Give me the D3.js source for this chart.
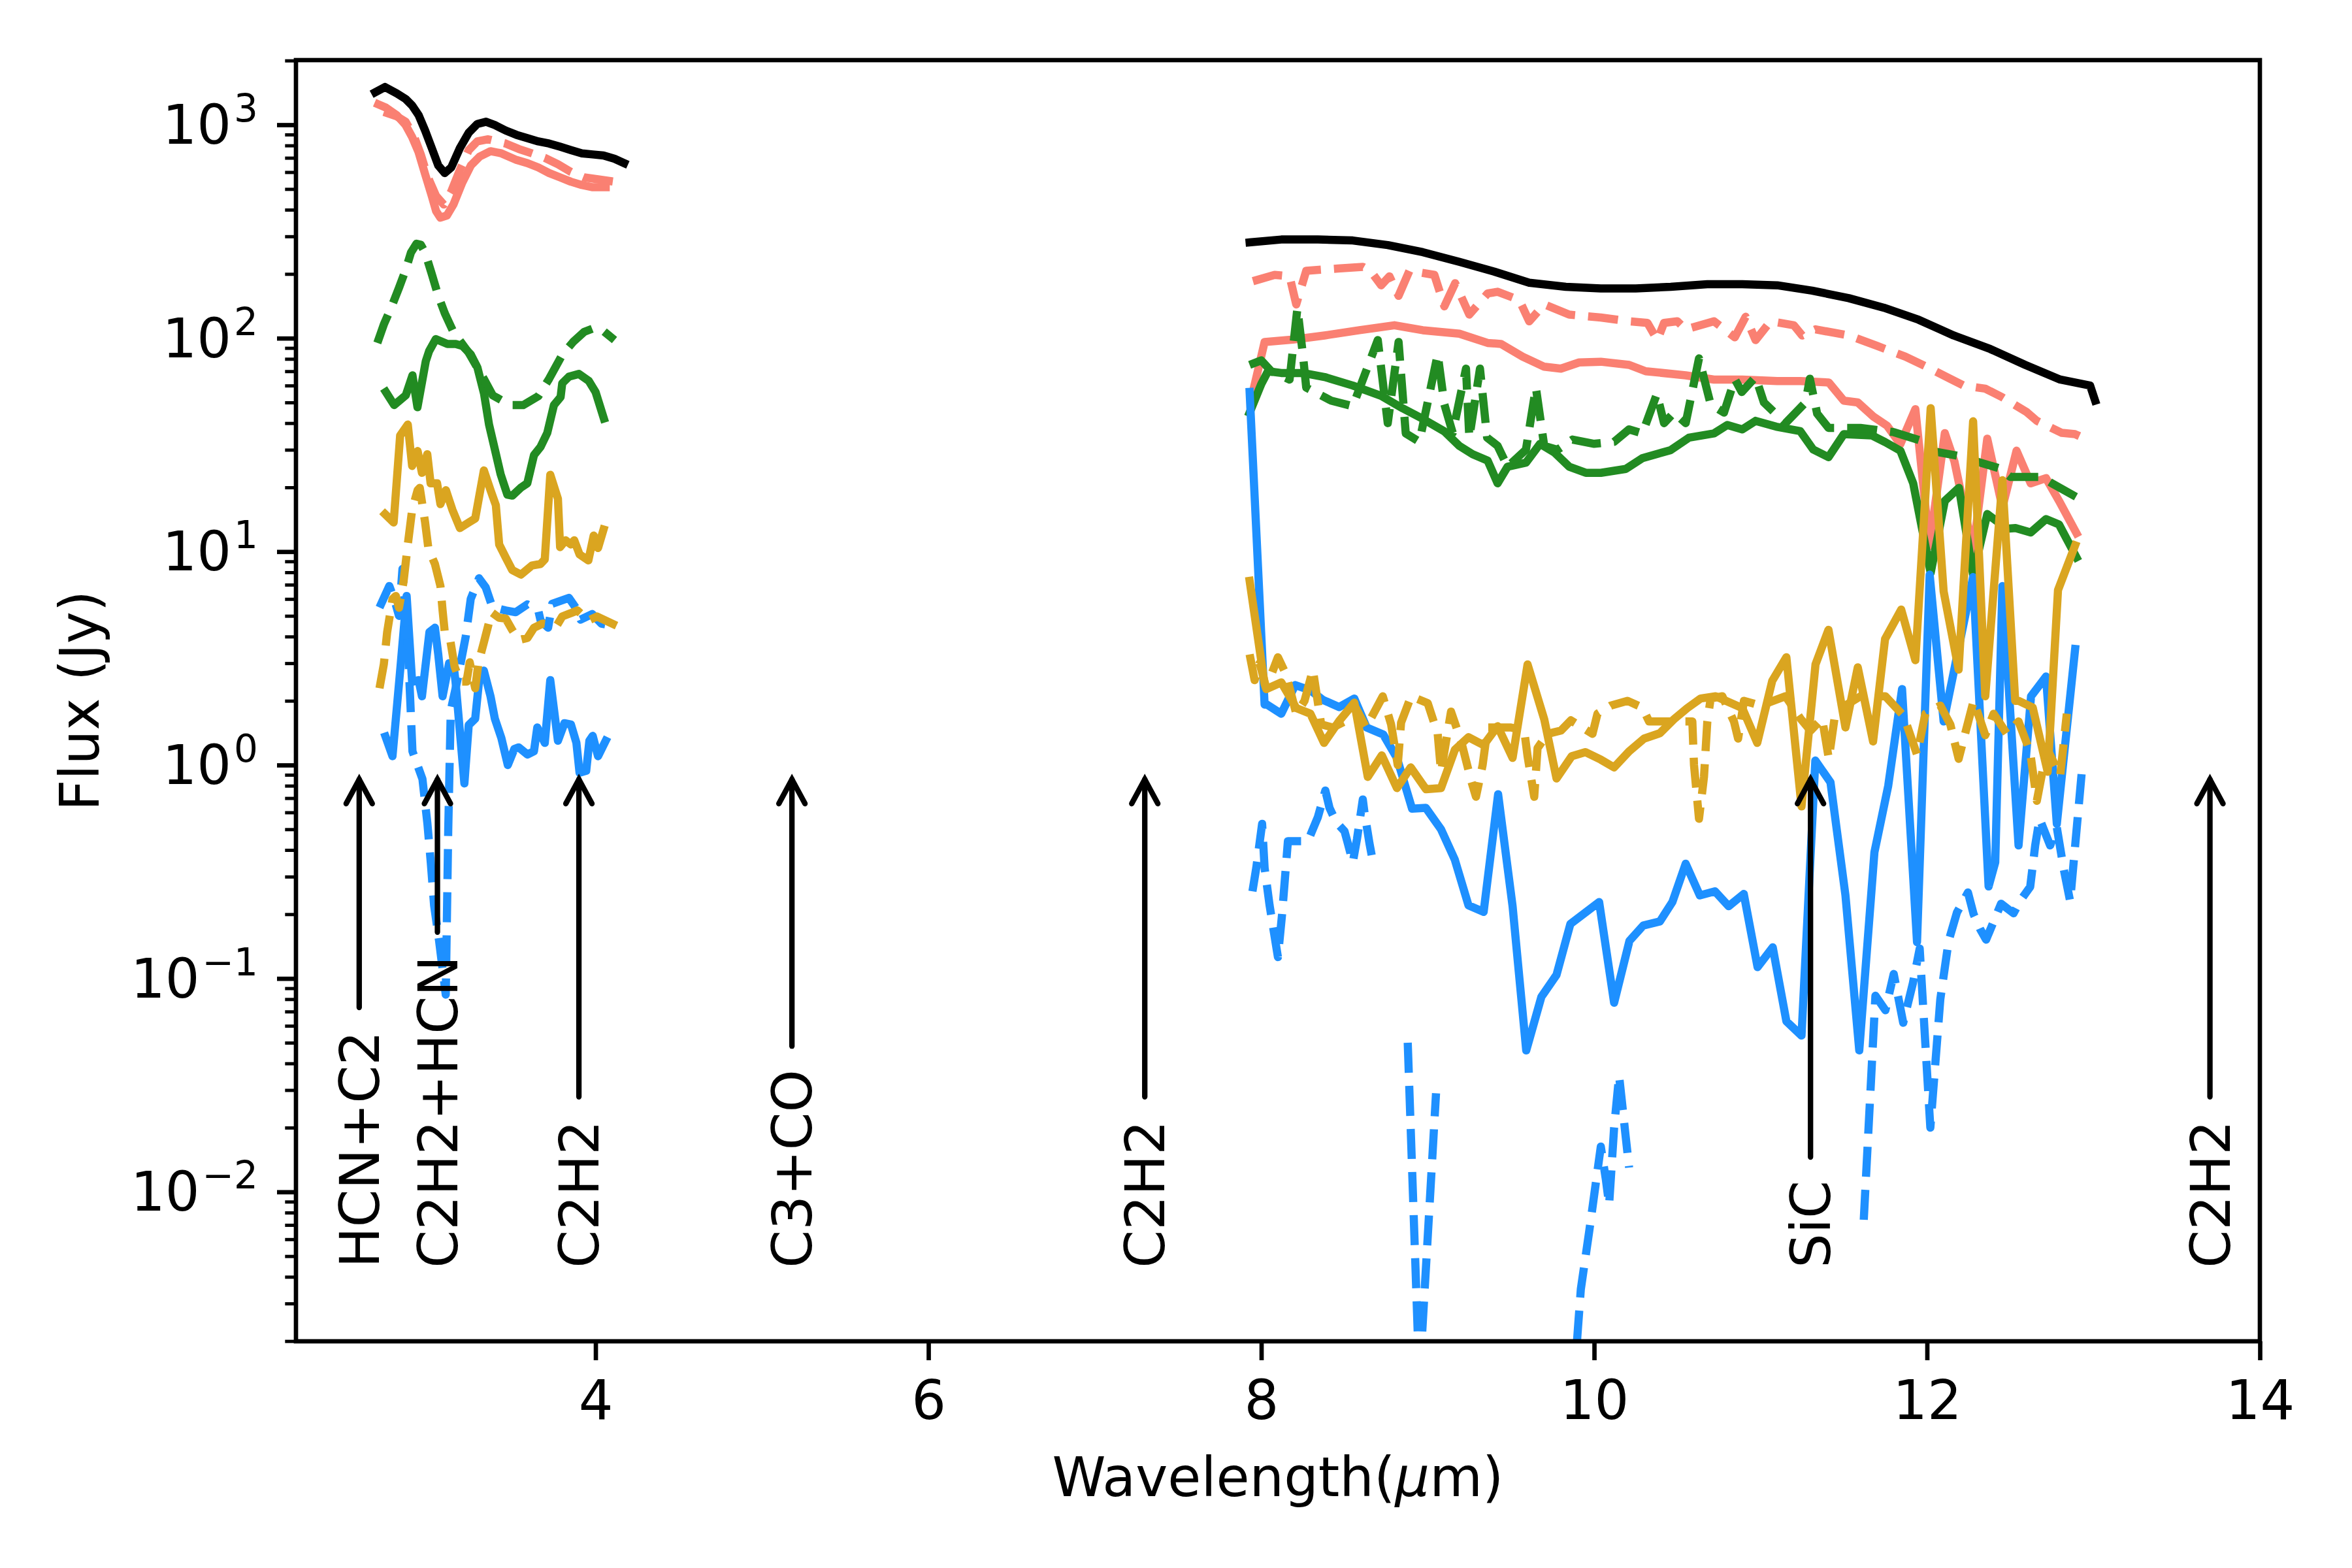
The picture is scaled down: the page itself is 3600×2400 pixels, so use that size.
<!DOCTYPE html>
<html>
<head>
<meta charset="utf-8">
<script src="https://cdn.jsdelivr.net/npm/d3@7"></script>
<style>
  body { margin: 0; background: #fff; }
  svg { display: block; }
</style>
</head>
<body>
<svg id="chart"></svg>
<script>
// [wavelength (um), flux (Jy)] pairs; null flux = gap in the spectrum
const blackSolid = [
  [2.676,1419],[2.735,1503],[2.806,1403],[2.859,1321],[2.898,1231],[2.937,1109],[2.976,940],[3.016,778],
  [3.055,645],[3.094,594],[3.133,631],[3.185,778],[3.238,918],[3.290,1009],[3.342,1033],[3.395,997],
  [3.460,940],[3.525,897],[3.591,865],[3.656,836],[3.721,817],[3.787,789],[3.852,761],[3.918,735],
  [3.983,726],[4.048,718],[4.114,693],[4.172,661],
  [6,null],
  [7.93,281],[8.12,290],[8.34,290],[8.55,287],[8.76,273],[8.97,253],[9.19,228],[9.40,205],[9.61,182],
  [9.83,174],[10.04,171],[10.25,171],[10.46,174],[10.68,179],[10.89,179],[11.10,177],[11.31,167],
  [11.53,154],[11.74,139],[11.95,122],[12.16,103],[12.38,89],[12.59,75],[12.80,64],[12.98,60],[13.01,51]
];

const salmonSolid = [
  [2.695,1247],[2.741,1203],[2.806,1109],[2.859,997],[2.898,876],[2.937,743],[2.976,587],[3.016,464],
  [3.042,394],[3.068,367],[3.107,376],[3.146,423],[3.199,535],[3.251,645],[3.303,709],[3.369,752],
  [3.434,735],[3.525,684],[3.591,661],[3.656,631],[3.721,594],[3.787,567],[3.852,541],[3.918,522],
  [3.983,510],[4.061,510],
  [6,null],
  [7.95,56],[8.02,96],[8.19,98.5],[8.38,103],[8.59,109],[8.80,115],[8.97,109],[9.19,105],[9.36,95],
  [9.44,94],[9.57,82],[9.70,73.5],[9.80,72],[9.91,77],[10.04,77.6],[10.21,75],[10.31,70],[10.55,67],
  [10.72,64],[10.89,64],[11.10,63],[11.24,63],[11.41,62],[11.50,51],[11.584,50],[11.68,42.8],[11.76,38.9],
  [11.84,31.9],[11.93,46.5],[12.015,10.6],[12.107,35.9],[12.165,26.4],[12.277,10.1],[12.362,33.8],
  [12.453,16.1],[12.538,29.7],[12.623,20.9],[12.715,22.1],[12.793,17.3],[12.898,12.2]
];

const salmonDashed = [
  [2.728,1148],[2.806,1095],[2.859,1033],[2.911,876],[2.950,726],[2.990,574],[3.042,464],[3.088,423],
  [3.133,487],[3.185,615],[3.238,761],[3.290,836],[3.355,855],[3.460,817],[3.539,770],[3.617,735],
  [3.695,700],[3.774,653],[3.852,601],[3.931,567],[4.022,554],[4.114,541],
  [6,null],
  [7.95,185],[8.08,198],[8.17,195],[8.21,144],[8.27,207],[8.46,212],[8.61,216],[8.66,205],[8.72,177],
  [8.77,195],[8.825,158],[8.89,207],[9.04,198],[9.10,141],[9.165,181],[9.25,129],[9.36,162],[9.42,165],
  [9.55,151],[9.61,120],[9.70,144],[9.85,129],[10.04,125],[10.21,120],[10.32,118],[10.38,98],[10.42,118],
  [10.50,120],[10.55,110],[10.72,120],[10.845,101],[10.91,126],[10.97,98],[11.06,120],[11.20,115],
  [11.25,103],[11.33,110],[11.53,103],[11.70,92],[11.87,82],[11.99,74],[12.14,64.5],[12.22,60],
  [12.35,58],[12.45,53],[12.6,45],[12.66,41],[12.81,36],[12.89,35.5],[12.95,33.8]
];

const greenSolid = [
  [2.74,56],[2.79,48.6],[2.86,54],[2.90,67],[2.93,47.5],[2.98,78],[3.00,87],[3.04,99],[3.11,94],
  [3.16,94],[3.20,92],[3.25,84],[3.29,73],[3.33,55],[3.36,39.4],[3.40,29],[3.43,23],[3.47,18.5],
  [3.50,18.3],[3.55,19.9],[3.59,20.9],[3.63,28.3],[3.67,31],[3.71,36],[3.75,48.6],[3.79,53],[3.80,61.5],
  [3.84,66],[3.90,68],[3.96,63],[4.00,56],[4.05,42],
  [6,null],
  [7.93,44.8],[8.00,61],[8.04,70],[8.12,68.7],[8.25,68.7],[8.38,65.8],[8.55,60],[8.72,53.7],[8.85,46.9],
  [8.97,41.9],[9.10,36.6],[9.19,31.3],[9.27,28.6],[9.36,26.7],[9.42,20.9],[9.48,25],[9.59,26.1],
  [9.675,32],[9.76,29.2],[9.85,25],[9.95,23.4],[10.04,23.4],[10.19,24.4],[10.29,27.4],[10.46,29.9],
  [10.57,34.2],[10.72,35.8],[10.80,39.2],[10.89,37.4],[10.97,41],[11.094,38.5],[11.238,36.7],
  [11.316,30.1],[11.408,27.7],[11.5,35.5],[11.67,35],[11.748,32.6],[11.84,29.7],[11.917,20.9],
  [12.022,7.96],[12.107,17.3],[12.192,19.9],[12.277,7.8],[12.362,15],[12.48,12.8],[12.532,12.9],
  [12.623,12.3],[12.715,14.2],[12.793,13.4],[12.898,9.4]
];

const greenDashed = [
  [2.689,95],[2.728,116],[2.780,144],[2.820,173],[2.859,209],[2.891,252],[2.924,277],[2.950,274],
  [2.976,252],[3.016,200],[3.055,158],[3.094,131],[3.146,107],[3.238,85.5],[3.329,64.5],[3.382,54],
  [3.486,48.6],[3.565,48.6],[3.656,53.5],[3.721,64.5],[3.800,83.6],[3.865,96],[3.931,107],[3.996,112],
  [4.048,108],[4.114,98],
  [6,null],
  [7.93,75],[8.00,78.7],[8.06,70],[8.17,64],[8.217,138],[8.25,84],[8.27,58.7],[8.42,51],[8.55,48],
  [8.70,98],[8.76,40],[8.825,96],[8.868,35.8],[8.95,32.7],[9.06,84],[9.10,49],[9.15,36],[9.23,72],
  [9.25,34.2],[9.314,72],[9.357,34.2],[9.42,31.3],[9.48,25],[9.59,30],[9.65,58.7],[9.70,31.3],[9.78,30],
  [9.87,33.5],[10.0,32],[10.12,32.7],[10.21,37.4],[10.29,35.8],[10.377,54.8],[10.42,40],[10.48,44.8],
  [10.55,40],[10.63,80.4],[10.70,49],[10.78,44.8],[10.845,64.3],[10.887,56],[10.97,65.8],[11.02,50],
  [11.15,40],[11.27,50],[11.296,64.6],[11.34,44.3],[11.408,38],[11.6,38],[11.8,36.3],[11.97,33],
  [12.02,29.7],[12.2,28],[12.26,27],[12.44,24.5],[12.5,22.4],[12.69,22.4],[12.75,20.9],[12.91,17.8]
];

const goldSolid = [
  [2.735,15.0],[2.787,13.7],[2.826,35],[2.872,39.4],[2.898,25.2],[2.931,29.6],[2.957,23.4],[2.989,28.6],
  [3.009,20.9],[3.048,20.9],[3.068,16.7],[3.101,19.4],[3.140,15.7],[3.185,12.9],[3.238,13.7],[3.277,14.3],
  [3.329,24],[3.369,19.4],[3.401,16.5],[3.421,10.8],[3.460,9.4],[3.499,8.2],[3.552,7.8],[3.617,8.6],
  [3.669,8.75],[3.695,9.2],[3.728,22.9],[3.774,17.7],[3.787,10.5],[3.820,11.3],[3.852,10.8],[3.872,11.3],
  [3.904,9.7],[3.957,9.1],[3.989,11.9],[4.015,10.4],[4.048,12.7],
  [6,null],
  [7.93,7.3],[8.02,2.4],[8.03,2.27],[8.12,2.44],[8.21,1.85],[8.295,1.74],[8.377,1.27],[8.468,1.61],
  [8.559,1.96],[8.64,0.88],[8.724,1.11],[8.815,0.78],[8.898,0.975],[8.99,0.77],[9.08,0.78],[9.163,1.18],
  [9.245,1.35],[9.336,1.24],[9.42,1.52],[9.51,1.08],[9.60,2.96],[9.70,1.64],[9.774,0.865],[9.865,1.1],
  [9.947,1.15],[10.04,1.06],[10.12,0.975],[10.21,1.16],[10.30,1.33],[10.395,1.41],[10.48,1.64],
  [10.56,1.85],[10.64,2.05],[10.73,2.1],[10.89,1.85],[10.98,1.27],[11.07,2.48],[11.155,3.2],[11.246,0.64],
  [11.33,2.96],[11.408,4.3],[11.51,1.5],[11.584,2.87],[11.676,1.29],[11.748,3.9],[11.845,5.35],
  [11.93,3.1],[12.022,47],[12.1,6.5],[12.19,2.8],[12.277,40.8],[12.35,2.1],[12.453,21.6],[12.53,2.0],
  [12.55,2.0],[12.635,1.86],[12.725,0.93],[12.787,6.6],[12.89,10.7]
];

const goldDashed = [
  [2.702,2.29],[2.728,2.97],[2.748,4.2],[2.780,6.0],[2.800,6.2],[2.819,5.46],[2.846,7.2],[2.872,10.8],
  [2.898,15.7],[2.931,19.4],[2.944,19.9],[2.976,13.7],[2.996,10.3],[3.035,8.75],[3.068,6.9],[3.081,5.3],
  [3.094,4.2],[3.127,3.85],[3.153,2.9],[3.185,2.46],[3.225,2.46],[3.244,3.03],[3.277,2.29],[3.297,3.03],
  [3.329,3.75],[3.355,4.5],[3.375,5.2],[3.42,4.9],[3.460,4.86],[3.499,4.3],[3.539,3.85],[3.591,3.94],
  [3.630,4.4],[3.682,4.6],[3.767,4.5],[3.800,4.97],[3.852,5.15],[3.891,5.3],[3.957,4.75],[4.009,4.97],
  [4.061,4.75],[4.126,4.5],
  [6,null],
  [7.93,3.3],[7.96,2.5],[7.99,3.0],[8.03,2.3],[8.10,3.2],[8.15,2.65],[8.21,1.74],[8.26,2.0],[8.31,2.8],
  [8.36,1.55],[8.43,1.5],[8.50,1.6],[8.56,1.9],[8.63,1.5],[8.73,2.1],[8.78,1.55],[8.82,1.0],[8.84,1.58],
  [8.9,2.1],[9.0,1.95],[9.06,1.4],[9.08,0.93],[9.14,1.78],[9.20,1.3],[9.26,0.85],[9.29,0.71],[9.33,1.0],
  [9.36,1.5],[9.5,1.5],[9.58,1.45],[9.6,1.1],[9.64,0.71],[9.66,1.2],[9.72,1.4],[9.80,1.45],[9.86,1.62],
  [9.99,1.4],[10.02,1.74],[10.1,1.9],[10.2,2.0],[10.29,1.86],[10.33,1.6],[10.45,1.6],[10.59,1.6],
  [10.6,1.0],[10.63,0.56],[10.66,0.88],[10.68,1.6],[10.7,2.05],[10.77,2.1],[10.84,1.6],[10.865,1.33],
  [10.9,2.0],[11.0,1.9],[11.15,2.1],[11.24,1.65],[11.3,1.45],[11.37,1.65],[11.41,1.07],[11.45,1.78],
  [11.6,2.1],[11.75,2.1],[11.86,1.7],[11.94,1.12],[11.99,1.74],[12.08,1.9],[12.14,1.55],[12.19,1.07],
  [12.28,2.0],[12.35,1.38],[12.4,1.74],[12.48,1.4],[12.55,1.6],[12.62,1.15],[12.66,0.68],[12.72,1.2],
  [12.8,0.89],[12.84,1.74]
];

const blueSolid = [
  [2.738,1.36],[2.78,1.1],[2.83,3.0],[2.865,6.2],[2.898,2.45],[2.937,2.5],[2.957,2.1],[3.002,4.2],
  [3.035,4.4],[3.055,3.3],[3.081,2.1],[3.12,3.0],[3.146,3.0],[3.159,2.45],[3.212,0.82],[3.238,1.54],
  [3.277,1.65],[3.303,2.6],[3.329,2.77],[3.369,2.1],[3.395,1.65],[3.434,1.34],[3.473,1.0],[3.512,1.19],
  [3.538,1.21],[3.591,1.12],[3.63,1.16],[3.65,1.5],[3.695,1.27],[3.728,2.5],[3.774,1.3],[3.813,1.57],
  [3.852,1.55],[3.885,1.27],[3.904,0.92],[3.944,0.94],[3.963,1.3],[3.983,1.37],[4.015,1.1],[4.061,1.3],
  [6,null],
  [7.93,56],[8.02,1.92],[8.03,1.93],[8.12,1.74],[8.204,2.37],[8.295,2.24],[8.37,2.02],[8.468,1.87],
  [8.559,2.05],[8.633,1.5],[8.733,1.39],[8.815,1.08],[8.906,0.625],[8.989,0.63],[9.08,0.5],[9.163,0.36],
  [9.245,0.22],[9.336,0.205],[9.423,0.73],[9.51,0.218],[9.592,0.046],[9.683,0.082],[9.774,0.104],
  [9.857,0.18],[10.03,0.228],[10.12,0.077],[10.212,0.15],[10.295,0.177],[10.395,0.185],[10.47,0.228],
  [10.55,0.345],[10.635,0.245],[10.726,0.256],[10.808,0.218],[10.899,0.249],[10.982,0.113],[11.073,0.14],
  [11.155,0.063],[11.246,0.054],[11.329,1.05],[11.42,0.83],[11.51,0.245],[11.593,0.046],[11.684,0.39],
  [11.767,0.80],[11.85,2.27],[11.94,0.148],[12.016,7.8],[12.10,1.6],[12.277,7.6],[12.37,0.27],
  [12.41,0.35],[12.453,6.9],[12.55,0.42],[12.625,2.1],[12.715,2.6],[12.78,0.53],[12.89,3.5]
];

const blueDashed = [
  [2.702,5.47],[2.761,6.9],[2.793,5.9],[2.819,5.0],[2.84,8.3],[2.87,4.0],[2.90,1.16],[2.96,0.86],
  [2.99,0.53],[3.01,0.35],[3.03,0.22],[3.06,0.15],[3.10,0.084],[3.115,0.5],[3.13,1.8],[3.17,2.5],
  [3.22,4.0],[3.25,6.0],[3.30,7.5],[3.34,6.8],[3.38,5.5],[3.46,5.3],[3.52,5.2],[3.59,5.66],[3.656,5.3],
  [3.67,4.75],[3.715,4.4],[3.74,5.7],[3.84,6.07],[3.88,5.47],[3.91,4.8],[3.98,5.1],[4.035,4.6],[4.107,4.5],
  [6,null],
  [7.947,0.256],[7.97,0.33],[8.005,0.53],[8.02,0.33],[8.05,0.22],[8.10,0.126],[8.125,0.2],[8.16,0.44],
  [8.28,0.44],[8.34,0.57],[8.385,0.76],[8.41,0.63],[8.45,0.54],[8.5,0.49],[8.52,0.43],[8.55,0.35],
  [8.575,0.45],[8.61,0.69],[8.62,0.6],[8.65,0.43],[8.67,0.355],
  [8.75,null],
  [8.88,0.05],[8.95,0.0013],[9.05,0.029],
  [9.1,null],
  [9.84,0.0005],[9.92,0.0035],[9.97,0.0065],[10.04,0.0163],[10.07,0.0115],[10.09,0.0087],[10.12,0.02],
  [10.15,0.035],[10.19,0.018],[10.21,0.013],
  [10.3,null],
  [11.62,0.0074],[11.69,0.083],[11.75,0.071],[11.80,0.105],[11.857,0.062],[11.915,0.095],[11.956,0.138],
  [12.02,0.020],[12.08,0.08],[12.13,0.15],[12.18,0.204],[12.246,0.253],[12.28,0.2],[12.32,0.17],
  [12.355,0.152],[12.445,0.224],[12.52,0.202],[12.56,0.231],[12.62,0.269],[12.65,0.42],[12.676,0.56],
  [12.74,0.42],[12.78,0.51],[12.82,0.33],[12.86,0.23],[12.93,0.93]
];

// feature markers
const featureLabels = ["HCN+C2", "C2H2+HCN", "C2H2", "C3+CO", "C2H2", "SiC", "C2H2"];
const featureWaves = [2.58, 3.05, 3.9, 5.18, 7.3, 11.3, 13.7];
const arrowFlux = 1;        // arrow points at 10^0
const labelBaseFlux = 0.0044;

const xTicks = [4, 6, 8, 10, 12, 14];
const yMajor = [-2, -1, 0, 1, 2, 3];

// Chart size (matplotlib 6x4 in at 600 dpi)
const width = 3600, height = 2400;
const plotLeft = 453, plotRight = 3459, plotTop = 92, plotBottom = 2053;
const font = "DejaVu Sans";
const fs = 83;

const x = d3.scaleLinear().domain([2.2, 14]).range([plotLeft, plotRight]);
const y = d3.scaleLog().domain([Math.pow(10, -2.7), Math.pow(10, 3.303)]).range([plotBottom, plotTop]);

const svg = d3.select("#chart")
  .attr("width", width)
  .attr("height", height)
  .attr("viewBox", [0, 0, width, height])
  .style("background", "#fff");

svg.append("defs").append("clipPath").attr("id", "plot-clip")
  .append("rect")
  .attr("x", plotLeft).attr("y", plotTop)
  .attr("width", plotRight - plotLeft).attr("height", plotBottom - plotTop);

const line = d3.line()
  .defined(d => d[1] != null && d[1] > 0)
  .x(d => x(d[0]))
  .y(d => y(d[1]));

const series = [
  { data: blackSolid, color: "#000000", dashed: false },
  { data: salmonSolid, color: "#fa8072", dashed: false },
  { data: salmonDashed, color: "#fa8072", dashed: true },
  { data: greenSolid, color: "#228b22", dashed: false },
  { data: greenDashed, color: "#228b22", dashed: true },
  { data: blueSolid, color: "#1e90ff", dashed: false },
  { data: blueDashed, color: "#1e90ff", dashed: true },
  { data: goldSolid, color: "#daa520", dashed: false },
  { data: goldDashed, color: "#daa520", dashed: true }
];

const plot = svg.append("g").attr("clip-path", "url(#plot-clip)");

plot.selectAll("path")
  .data(series)
  .join("path")
  .attr("fill", "none")
  .attr("stroke", d => d.color)
  .attr("stroke-width", 12.5)
  .attr("stroke-linejoin", "round")
  .attr("stroke-linecap", d => d.dashed ? "butt" : "square")
  .attr("stroke-dasharray", d => d.dashed ? "46,20" : null)
  .attr("d", d => line(d.data));

// x axis
const xAxis = svg.append("g")
  .attr("transform", `translate(0,${plotBottom})`)
  .call(d3.axisBottom(x).tickValues(xTicks).tickSize(29).tickPadding(29).tickSizeOuter(0));
xAxis.select(".domain").remove();
xAxis.selectAll(".tick line").attr("stroke", "#000").attr("stroke-width", 6.67);
xAxis.selectAll(".tick text")
  .attr("font-family", font).attr("font-size", fs).attr("fill", "#000")
  .attr("dy", "0.74em");

// y axis: minor ticks
const yMinor = [];
for (let e = -3; e <= 3; e++) {
  for (let m = 2; m <= 9; m++) {
    const v = m * Math.pow(10, e);
    if (v >= y.domain()[0] && v <= y.domain()[1]) yMinor.push(v);
  }
}
const yMinorAxis = svg.append("g")
  .attr("transform", `translate(${plotLeft},0)`)
  .call(d3.axisLeft(y).tickValues(yMinor).tickSize(16.7).tickFormat("").tickSizeOuter(0));
yMinorAxis.select(".domain").remove();
yMinorAxis.selectAll(".tick line").attr("stroke", "#000").attr("stroke-width", 5);

const yAxis = svg.append("g")
  .attr("transform", `translate(${plotLeft},0)`)
  .call(d3.axisLeft(y).tickValues(yMajor.map(e => Math.pow(10, e))).tickSize(29).tickFormat("").tickSizeOuter(0));
yAxis.select(".domain").remove();
yAxis.selectAll(".tick line").attr("stroke", "#000").attr("stroke-width", 6.67);

const yLabels = svg.append("g")
  .attr("font-family", font)
  .attr("font-size", fs)
  .attr("fill", "#000");
yMajor.forEach(e => {
  const t = yLabels.append("text")
    .attr("x", plotLeft - 58)
    .attr("y", y(Math.pow(10, e)) + 29)
    .attr("text-anchor", "end");
  t.append("tspan").text("10");
  t.append("tspan")
    .attr("font-size", 58)
    .attr("dx", 4)
    .attr("dy", -34)
    .text(e < 0 ? "\u2212" + Math.abs(e) : String(e));
});

// frame
svg.append("rect")
  .attr("x", plotLeft).attr("y", plotTop)
  .attr("width", plotRight - plotLeft).attr("height", plotBottom - plotTop)
  .attr("fill", "none")
  .attr("stroke", "#000")
  .attr("stroke-width", 6.67);

// axis labels
const xl = svg.append("text")
  .attr("x", (plotLeft + plotRight) / 2)
  .attr("y", 2290)
  .attr("text-anchor", "middle")
  .attr("font-family", font)
  .attr("font-size", fs)
  .attr("fill", "#000");
xl.append("tspan").text("Wavelength(");
xl.append("tspan").attr("font-style", "italic").text("\u03bc");
xl.append("tspan").text("m)");

svg.append("text")
  .attr("transform", `translate(151,${(plotTop + plotBottom) / 2}) rotate(-90)`)
  .attr("text-anchor", "middle")
  .attr("font-family", font)
  .attr("font-size", fs)
  .attr("fill", "#000")
  .text("Flux (Jy)");

// feature annotations with arrows
const ann = svg.append("g");
featureWaves.forEach((w, i) => {
  const ax = x(w);
  const ty = y(labelBaseFlux);
  const txt = ann.append("text")
    .attr("transform", `translate(${ax + 30},${ty}) rotate(-90)`)
    .attr("text-anchor", "start")
    .attr("font-family", font)
    .attr("font-size", fs)
    .attr("fill", "#000")
    .text(featureLabels[i]);
  const len = txt.node().getComputedTextLength();
  const tail = ty - len - 36;
  const tip = y(arrowFlux) + 22;
  ann.append("line")
    .attr("x1", ax).attr("x2", ax)
    .attr("y1", tail).attr("y2", tip)
    .attr("stroke", "#000")
    .attr("stroke-width", 8.3)
    .attr("stroke-linecap", "round");
  ann.append("path")
    .attr("d", `M${ax - 20},${tip + 37} L${ax},${tip} L${ax + 20},${tip + 37}`)
    .attr("fill", "none")
    .attr("stroke", "#000")
    .attr("stroke-width", 8.3)
    .attr("stroke-linecap", "round")
    .attr("stroke-linejoin", "miter");
});
</script>
</body>
</html>
